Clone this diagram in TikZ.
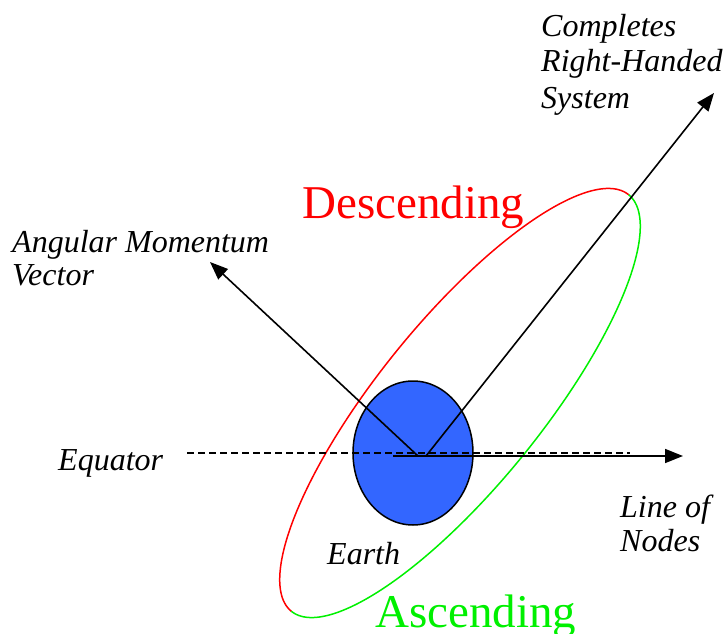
\documentclass[tikz,border=0pt]{standalone}
\usepackage{fontspec}
\setmainfont{Liberation Serif}
\usetikzlibrary{shapes.geometric,arrows.meta}
\definecolor{earthblue}{RGB}{51,102,255}
\definecolor{orbred}{RGB}{255,0,0}
\definecolor{orbgreen}{RGB}{0,240,0}
\tikzset{
  lbl/.style={font=\fontsize{32}{35}\selectfont\itshape, align=left, inner sep=0pt, anchor=base west},
  bigred/.style={font=\fontsize{47}{50}\selectfont, text=orbred, inner sep=0pt, anchor=base west},
  biggreen/.style={font=\fontsize{47}{50}\selectfont, text=orbgreen, inner sep=0pt, anchor=base west},
  vec/.style={line width=1.6pt, -{Triangle[length=18pt,width=14pt]}},
  orbit/.style={line width=1.5pt},
  planet/.style={ellipse, draw=black, line width=1.5pt, fill=earthblue, minimum width=120pt, minimum height=144pt, inner sep=0pt},
  eqline/.style={line width=1.3pt, dash pattern=on 7pt off 4pt}
}
\begin{document}
\begin{tikzpicture}[x=1pt,y=-1pt]
\useasboundingbox (0,0) rectangle (726,634);
% orbit
\draw[orbit, orbred] plot[domain=0:180, samples=120, smooth]
  ({460 + 268*cos(51)*cos(\x) - 82*sin(51)*sin(\x)}, {403 - (268*sin(51)*cos(\x) + 82*cos(51)*sin(\x))});
\draw[orbit, orbgreen] plot[domain=180:360, samples=120, smooth]
  ({460 + 268*cos(51)*cos(\x) - 82*sin(51)*sin(\x)}, {403 - (268*sin(51)*cos(\x) + 82*cos(51)*sin(\x))});
% earth
\node[planet] (earth) at (413,453) {};
% equator
\coordinate (eqL) at (187,453);
\coordinate (eqR) at (630,453);
\draw[eqline] (eqL) -- (eqR);
% vectors
\coordinate (lnS) at (393,456);
\coordinate (lnT) at (683,456);
\coordinate (amS) at (418,456);
\coordinate (amT) at (210,262);
\coordinate (rhS) at (426,456);
\coordinate (rhT) at (714,93);
\draw[vec] (lnS) -- (lnT);
\draw[vec] (amS) -- (amT);
\draw[vec] (rhS) -- (rhT);
% labels (multi-line nodes: base is the last line's baseline)
\node[lbl, font=\fontsize{32}{36}\selectfont\itshape] (rhl) at (541,108) {Completes\\Right-Handed\\System};
\node[lbl, font=\fontsize{32}{33}\selectfont\itshape] (aml) at (12,285) {Angular Momentum\\Vector};
\node[lbl] (eql) at (58,470) {Equator};
\node[lbl] (earthl) at (327,564) {Earth};
\node[lbl, font=\fontsize{32}{34}\selectfont\itshape] (lnl) at (620,551) {Line of\\Nodes};
\node[bigred] (desc) at (302,218) {Descending};
\node[biggreen] (asc) at (375,627) {Ascending};
\end{tikzpicture}
\end{document}
